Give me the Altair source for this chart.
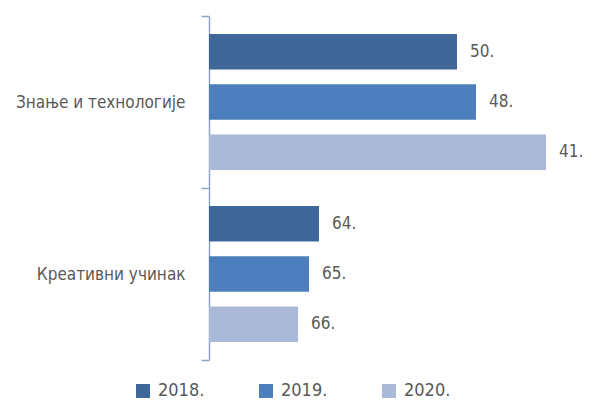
import altair as alt
import pandas as pd

categories = ["Знање и технологије", "Креативни учинак"]
years = ["2018.", "2019.", "2020."]
# bar lengths
values_znanje = [24.8, 26.7, 33.7]
values_kreativ = [11.0, 10.0, 8.9]
# rank labels
ranks_znanje = ["50.", "48.", "41."]
ranks_kreativ = ["64.", "65.", "66."]
colors = ["#3F6899", "#4C7FBC", "#A9B9D7"]

rows = []
for cat, vals, ranks in [(categories[0], values_znanje, ranks_znanje),
                         (categories[1], values_kreativ, ranks_kreativ)]:
    for yr, v, r in zip(years, vals, ranks):
        rows.append({"cat": cat, "year": yr, "value": v, "rank": r})
df = pd.DataFrame(rows)

FONT = "DejaVu Sans Condensed, Liberation Sans Narrow, sans-serif"
AXC = "#8EA5C8"
TXT = "#595959"

y_enc = alt.Y("cat:N", sort=categories,
              scale=alt.Scale(paddingInner=0, paddingOuter=0),
              axis=alt.Axis(title=None, tickBand="extent", domainColor=AXC,
                            domainWidth=1.5, tickColor=AXC, tickWidth=1.5,
                            tickSize=8, labelFontSize=17, labelColor=TXT,
                            labelFont=FONT, labelPadding=16, labelLimit=300,
                            grid=False))
yoff = alt.YOffset("year:N", sort=years,
                   scale=alt.Scale(paddingInner=0.294, paddingOuter=0.357))
x_enc = alt.X("value:Q", scale=alt.Scale(domain=[0, 36]), axis=None)

base = alt.Chart(df)
bars = base.mark_bar().encode(
    y=y_enc, yOffset=yoff, x=x_enc,
    color=alt.Color("year:N", scale=alt.Scale(domain=years, range=colors),
                    legend=alt.Legend(title=None, orient="none", legendX=-75,
                                      legendY=366, direction="horizontal",
                                      symbolType="square", symbolSize=196,
                                      symbolStrokeWidth=0, labelFontSize=18,
                                      labelFont=FONT, labelColor=TXT,
                                      labelOffset=6, columnPadding=52)),
)
labels = base.mark_text(align="left", baseline="middle", dx=13, fontSize=17,
                        font=FONT, color=TXT).encode(
    y=y_enc, yOffset=yoff, x=x_enc, text="rank:N")

chart = (bars + labels).properties(
    width=360, height=344,
    autosize=alt.AutoSizeParams(type="none"),
    padding={"left": 201, "top": 8, "right": 15, "bottom": 40},
).configure_view(stroke=None)

chart.save("out.html", embed_options={"renderer": "svg", "actions": False})
